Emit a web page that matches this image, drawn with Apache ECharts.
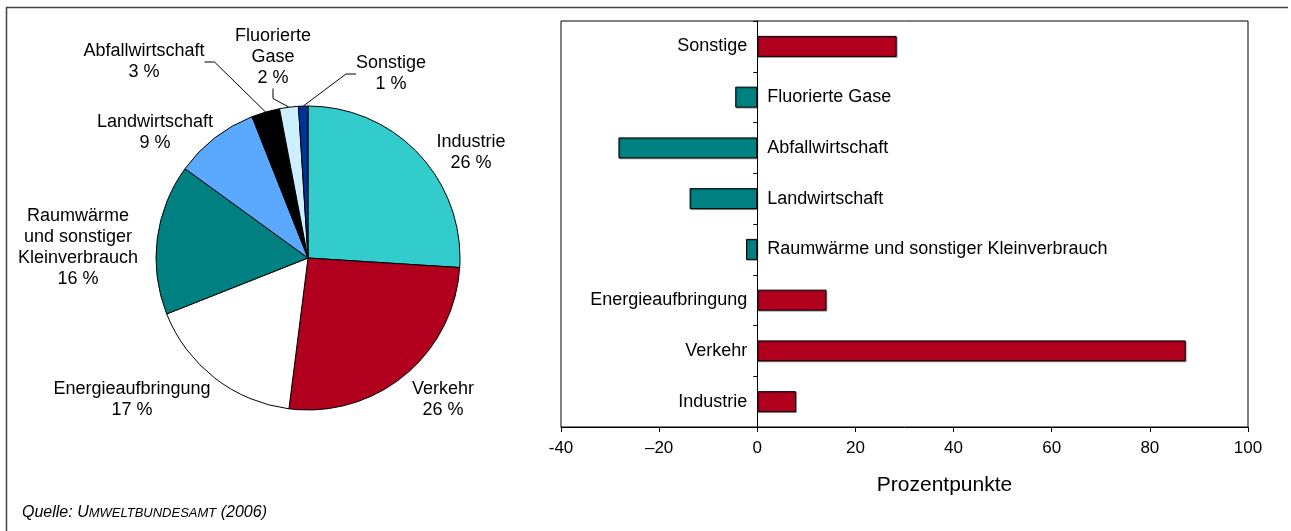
<!DOCTYPE html>
<html>
<head>
<meta charset="utf-8">
<title>Treibhausgasemissionen</title>
<script src="https://cdn.jsdelivr.net/npm/echarts@6/dist/echarts.min.js"></script>
<style>
    html, body { margin: 0; padding: 0; background: #fff; }
    #chart { width: 1291px; height: 531px; }
</style>
</head>
<body>
<div id="chart"></div>
<script>
// Anteile (Kreisdiagramm), im Uhrzeigersinn ab 12 Uhr
var pieNames = ['Industrie', 'Verkehr', 'Energieaufbringung', 'Raumwärme\nund sonstiger\nKleinverbrauch',
    'Landwirtschaft', 'Abfallwirtschaft', 'Fluorierte\nGase', 'Sonstige'];
var pieValues = [26, 26, 17, 16, 9, 3, 2, 1];
var pieColors = ['#33cccc', '#b0001e', '#ffffff', '#008080', '#5aa9ff', '#000000', '#ccf0ff', '#003399'];

// Veränderung in Prozentpunkten (Balkendiagramm), von unten nach oben
var barNames = ['Industrie', 'Verkehr', 'Energieaufbringung', 'Raumwärme und sonstiger Kleinverbrauch',
    'Landwirtschaft', 'Abfallwirtschaft', 'Fluorierte Gase', 'Sonstige'];
var barValues = [7.9, 87.3, 14.1, -2.3, -13.8, -28.3, -4.5, 28.4];
var xTickLabels = ['-40', '–20', '0', '20', '40', '60', '80', '100'];

// Lage der Beschriftungen am Kreis (Mittelpunkt der Textblöcke)
var pieLabelPos = [[471, 153], [443, 400], [132, 400], [78, 248], [155, 133], [144, 62], [273, 57], [391, 74]];

var sans = "'Liberation Sans', Arial, sans-serif";

window.onload = function () {
    initChart();
}

function initChart() {
    var chart = echarts.init(document.getElementById('chart'), null, { renderer: 'canvas' });

    var pieData = pieNames.map(function (n, i) {
        return {
            name: n,
            value: pieValues[i],
            itemStyle: { color: pieColors[i] },
            labelLine: { show: i >= 5 }
        };
    });

    // positive Balken rot mit Text links, negative petrol mit Text rechts
    var barData = barValues.map(function (v) {
        return {
            value: v,
            itemStyle: { color: v >= 0 ? '#b0001e' : '#008080' },
            label: { position: v >= 0 ? 'left' : 'right' }
        };
    });

    chart.setOption({
        backgroundColor: '#fff',
        animation: false,
        graphic: [
            { type: 'line', shape: { x1: 6, y1: 7.5, x2: 1288, y2: 7.5 }, style: { stroke: '#444', lineWidth: 1.5 } },
            { type: 'line', shape: { x1: 6.5, y1: 7, x2: 6.5, y2: 531 }, style: { stroke: '#444', lineWidth: 1.5 } },
            {
                type: 'text', left: 22, top: 505,
                style: {
                    text: '{a|Quelle: U}{b|MWELTBUNDESAMT}{a| (2006)}',
                    rich: {
                        a: { fontSize: 16, fontStyle: 'italic', fontFamily: sans, fill: '#000' },
                        b: { fontSize: 13, fontStyle: 'italic', fontFamily: sans, fill: '#000' }
                    }
                }
            }
        ],
        grid: {
            left: 561, right: 43, top: 21, bottom: 104,
            show: true, borderColor: '#000', borderWidth: 1, backgroundColor: 'transparent'
        },
        xAxis: {
            type: 'value',
            min: -40, max: 100, interval: 20,
            name: 'Prozentpunkte',
            nameLocation: 'middle',
            nameGap: 48,
            nameTextStyle: { fontSize: 21, fontFamily: sans, color: '#000', padding: [0, 0, 0, 80] },
            axisLine: { show: true, lineStyle: { color: '#000' } },
            axisTick: { show: true, length: 5, lineStyle: { color: '#000' } },
            splitLine: { show: false },
            axisLabel: {
                fontSize: 17, fontFamily: sans, color: '#000', margin: 13,
                formatter: function (v, i) { return xTickLabels[i]; }
            }
        },
        yAxis: {
            type: 'category',
            data: barNames,
            axisLine: { show: true, onZero: true, lineStyle: { color: '#000' } },
            axisTick: { show: true, length: 4, lineStyle: { color: '#000' } },
            axisLabel: { show: false },
            splitLine: { show: false }
        },
        series: [
            {
                type: 'pie',
                center: [308, 258],
                radius: 152,
                startAngle: 90,
                clockwise: true,
                data: pieData,
                itemStyle: { borderColor: '#000', borderWidth: 1 },
                emphasis: { disabled: true },
                label: {
                    show: true,
                    position: 'outside',
                    formatter: function (p) { return p.name + '\n' + p.value + ' %'; },
                    fontSize: 18,
                    lineHeight: 21,
                    fontFamily: sans,
                    color: '#000',
                    align: 'center'
                },
                labelLine: { lineStyle: { color: '#000', width: 1 }, length: 10, length2: 10 },
                labelLayout: function (p) {
                    var pos = pieLabelPos[p.dataIndex];
                    return { x: pos[0], y: pos[1], align: 'center', verticalAlign: 'middle' };
                }
            },
            {
                type: 'bar',
                data: barData,
                barWidth: 21,
                itemStyle: {
                    borderColor: '#000', borderWidth: 1,
                    shadowColor: 'rgba(0,0,0,0.3)', shadowOffsetX: 1, shadowOffsetY: 1, shadowBlur: 0
                },
                emphasis: { disabled: true },
                label: {
                    show: true,
                    formatter: '{b}',
                    distance: 10,
                    fontSize: 18,
                    fontFamily: sans,
                    color: '#000'
                }
            }
        ]
    });
}
</script>
</body>
</html>
